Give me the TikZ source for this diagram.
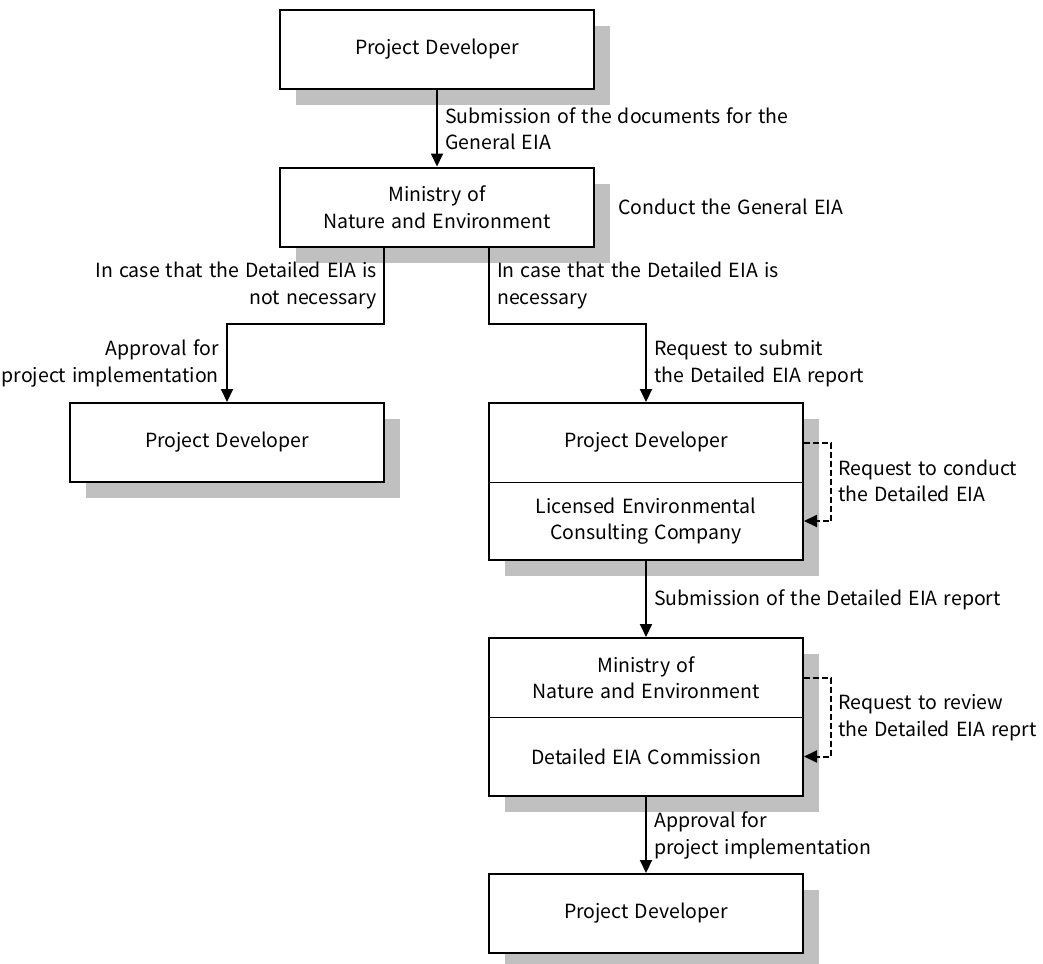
\documentclass[tikz,border=0pt]{standalone}
\usepackage{fontspec}
\setmainfont[WordSpace=1.4]{Noto Sans CJK JP}
\usetikzlibrary{arrows.meta,shadows}
\definecolor{shadowgrey}{RGB}{192,192,192}
\begin{document}
\begin{tikzpicture}[x=1pt,y=-1pt,
  every node/.style={font=\fontsize{19.5}{26.5}\selectfont, inner sep=0pt},
  box/.style={draw, line width=2pt, fill=white, minimum width=314pt,
    minimum height=79pt, align=center,
    drop shadow={shadow xshift=16pt, shadow yshift=-16pt, fill=shadowgrey, opacity=1}},
  lbl/.style={align=left, anchor=west},
  rlbl/.style={align=right, anchor=east},
  conn/.style={line width=2pt, -{Triangle[length=13pt,width=12pt]}},
  dconn/.style={conn, dash pattern=on 6pt off 3pt},
  divider/.style={line width=1pt}]
\useasboundingbox (0,0) rectangle (1043,963);
\clip (0,0) rectangle (1043,963);

% boxes
\node[box] (pdtop) at (437,49.5) {Project Developer};
\node[box] (mnetop) at (437,207) {Ministry of\\Nature and Environment};
\node[box] (pdleft) at (227,442.5) {Project Developer};
\node[box, minimum height=157pt] (consult) at (646,481.5) {};
\node[box, minimum height=158pt] (review) at (646,717) {};
\node[box] (pdbottom) at (646,913.5) {Project Developer};

% two-part boxes
\node (consultA) at (646,442.5) {Project Developer};
\node[align=center] (consultB) at (646,521) {Licensed Environmental\\Consulting Company};
\draw[divider] (consult.west |- 0,482) -- (consult.east |- 0,482);
\node[align=center] (reviewA) at (646,677.5) {Ministry of\\Nature and Environment};
\node (reviewB) at (646,756.5) {Detailed EIA Commission};
\draw[divider] (review.west |- 0,717) -- (review.east |- 0,717);

% connectors
\coordinate (lbend) at (384,324);
\coordinate (rbend) at (489,324);
\draw[conn] (pdtop) -- (mnetop);
\draw[conn] (mnetop.south -| lbend) -- (lbend) -| (pdleft.north);
\draw[conn] (mnetop.south -| rbend) -- (rbend) -| (consult.north);
\draw[conn] (consult) -- (review);
\draw[conn] (review) -- (pdbottom);
\draw[dconn] (consult.east |- consultA) -- ++(27,0) |- (consult.east |- consultB);
\draw[dconn] (review.east |- reviewA) -- ++(27,0) |- (review.east |- reviewB);

% labels
\node[lbl] (subdocs) at (445,128.5) {Submission of the documents for the\\General EIA};
\node[lbl] (conductgen) at (618,207) {Conduct the General EIA};
\node[rlbl] (notneeded) at (377,285.5) {In case that the Detailed EIA is\\not necessary};
\node[rlbl] (approvalleft) at (219,363.5) {Approval for\\project implementation};
\node[lbl] (needed) at (497,285.5) {In case that the Detailed EIA is\\necessary};
\node[lbl] (reqsubmit) at (654,363.5) {Request to submit\\the Detailed EIA report};
\node[lbl] (reqconduct) at (838,481) {Request to conduct\\the Detailed EIA};
\node[lbl] (subreport) at (654,600) {Submission of the Detailed EIA report};
\node[lbl] (reqreview) at (838,717.5) {Request to review\\the Detailed EIA reprt};
\node[lbl] (approvalright) at (654,835.5) {Approval for\\project implementation};
\end{tikzpicture}
\end{document}
